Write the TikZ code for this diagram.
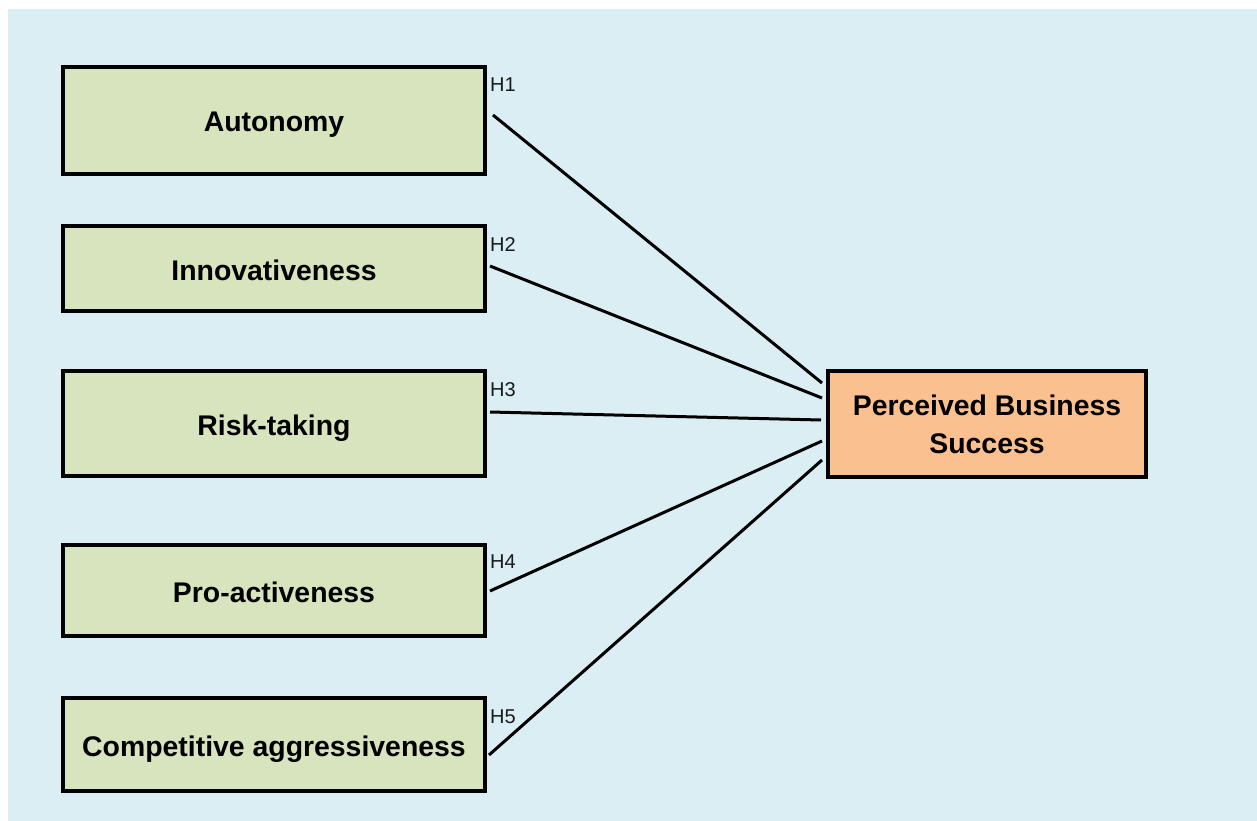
\documentclass[tikz,border=0pt]{standalone}
\usepackage{fontspec}
\setmainfont{Liberation Sans}
\definecolor{bgblue}{HTML}{DBEEF4}
\definecolor{boxgreen}{HTML}{D7E4BD}
\definecolor{boxorange}{HTML}{FAC090}
\definecolor{labelgray}{HTML}{1A1A1A}
\tikzset{
  factor/.style={draw=black, line width=4pt, fill=boxgreen, minimum width=422pt, inner sep=0pt,
    text height=23pt, text depth=0pt,
    font=\fontsize{28.4}{38}\selectfont\bfseries, text=black},
  outcome/.style={draw=black, line width=4pt, fill=boxorange, minimum width=318pt, minimum height=106pt,
    inner sep=0pt, align=center, font=\fontsize{28.4}{38}\selectfont\bfseries, text=black},
  hlabel/.style={anchor=base west, inner sep=0pt, font=\fontsize{20}{24}\selectfont, text=labelgray},
  link/.style={line width=3pt, draw=black}
}
\begin{document}
\begin{tikzpicture}[x=1pt,y=-1pt]
\useasboundingbox (0,0) rectangle (1257,821);
\fill[bgblue] (8,9) rectangle (1257,821);

\node[factor, minimum height=107pt] (aut) at (274,120.5) {Autonomy};
\node[factor, minimum height=85pt] (inn) at (274,268.5) {Innovativeness};
\node[factor, minimum height=105pt] (risk) at (274,423.5) {Risk-taking};
\node[factor, minimum height=91pt] (pro) at (274,590.5) {Pro-activeness};
\node[factor, minimum height=93pt] (comp) at (274,744.5) {Competitive aggressiveness};
\node[outcome] (pbs) at (987,424) {Perceived Business\\[0pt]Success};

\node[hlabel] (h1) at (490,92) {H1};
\node[hlabel] (h2) at (490,251) {H2};
\node[hlabel] (h3) at (490,396) {H3};
\node[hlabel] (h4) at (490,568) {H4};
\node[hlabel] (h5) at (490,723) {H5};

\coordinate (s1) at (493,115);
\coordinate (s2) at (490,266);
\coordinate (s3) at (490,412);
\coordinate (s4) at (490,591);
\coordinate (s5) at (489,755);
\coordinate (e1) at (822,383);
\coordinate (e2) at (822,398);
\coordinate (e3) at (821,420);
\coordinate (e4) at (822,441);
\coordinate (e5) at (822,460);

\draw[link] (s1) -- (e1);
\draw[link] (s2) -- (e2);
\draw[link] (s3) -- (e3);
\draw[link] (s4) -- (e4);
\draw[link] (s5) -- (e5);
\end{tikzpicture}
\end{document}
